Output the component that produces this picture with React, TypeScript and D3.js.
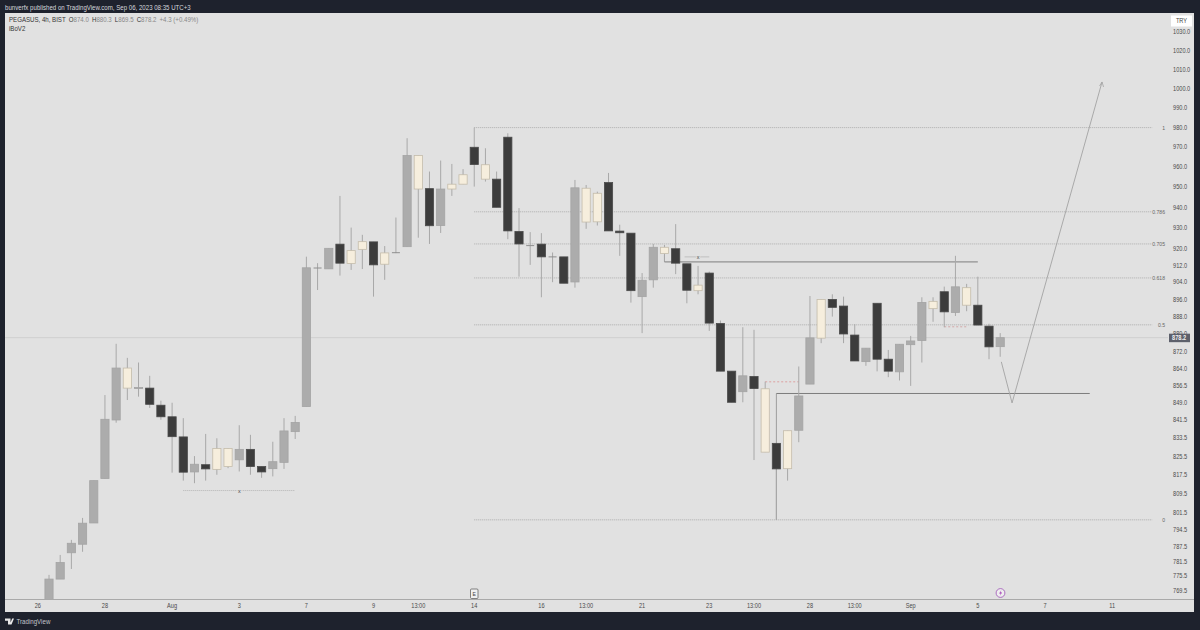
import React from "react";
import * as d3 from "d3";

const kinds = ("gggggggcgd"+"dddgdccgdd"+"ggggggdccd"+"cggcdgccdc"+"dddgdgdgcc"+"dddggcddcd"+"ddgdcdcggc"+"dddgddgggc"+"dgcddg").split("");
const opens = [765.9,774.3,785.0,788.5,797.3,816,841.3,855.4,855.2,855.4,847.8,842.7,833.9,818.8,821.9,819.9,821.1,824,828.5,821.1,820.2,822.9,836.2,847.2,910.7,910.3,922.1,912.8,919.6,923.2,912.5,918,920.9,949,949.2,931.1,949,951.4,969.9,953.9,953.9,975,928.2,921.4,922.1,916,916,904.1,932.8,932.9,952.2,928.4,927.4,897.2,905.1,917.6,919.9,912.7,900,908.3,884.7,863,853.8,860.6,827.3,831.1,820.2,836.8,857.2,878,895.9,892.8,879.4,867.3,894.1,868.4,862.7,875,876.9,891.6,899.5,889.8,893.2,893.2,883.5,874.1];
const closes = [774.3,781.0,788.9,797.2,815.1,841.6,864.4,864.4,855.7,848.2,842.7,834,818.7,822.1,820.1,828.9,828.9,828.5,821.1,818.8,823.2,836.5,840.2,910.8,910.5,920.1,913,919,923.3,912.2,917.9,917.8,965.7,965.7,931,949,951.4,956.1,961.2,961.1,940,928.5,922.2,921.2,916,915.8,903.5,949.6,949.4,946.9,928.5,927.6,900,904.9,920.6,920.6,913,900.2,902.6,884.9,863,849.1,860.9,855.2,855.1,820.1,836.6,851.9,878.1,895.9,892.2,879.9,867.6,873.4,868.4,863,875.2,876.7,894.5,895,890.1,901.8,901.4,884,874,878.2];
const highs = [776,784.1,790.3,799.4,815.1,852.3,875.4,869,866.9,860.9,849.8,848.9,842.1,825.6,835.2,833.3,828.9,839,834.8,821.1,831.8,842.1,843.1,916.1,913,920.1,945.6,930.1,926.6,923.2,921.2,935,974.5,965.7,957.7,963.2,961.5,958.9,969.9,969.4,957.7,977,939.6,927.9,927.4,918.1,916,953.5,951,947.7,957,931.5,927.4,908.3,922.2,921.7,931.8,912.7,911.7,909,886.1,863,883,881.8,858.3,831.1,836.6,865.1,897.5,895.9,898.3,897.2,884.4,873.4,894.1,872.6,875.2,879,896.9,896.9,901.9,916.5,903.2,906.6,884.6,880.3];
const lows = [764,774.3,778.4,785.4,797.3,816,840.1,850.1,851.6,846.6,841.4,818.5,815.1,814,815.1,817.6,820.4,819,817.6,816.3,816.9,820.1,833,847.2,900.3,910.3,907.1,909.8,910.2,897.2,905.1,917.8,920.9,925.2,922.2,927.5,945.6,951.4,950.2,952.7,940,924.5,906.6,912.2,896.9,904,903.5,901.4,929.5,931.1,928.5,916.5,894.4,880.3,901.4,913.8,907.8,894.1,898.3,881.3,863,849.1,849.1,823.9,827.3,798.6,815.1,831.6,857.2,875.7,887.9,875.7,867.6,865.4,862.9,860.3,858.8,856.4,866.9,885.5,883,888.2,890.4,884,868.4,869.5];

const priceTicks = [1030,1020,1010,1000,990,980,970,960,950,940,930,920,912,904,896,888,880,872,864,856.5,849,841.5,833.5,825.5,817.5,809.5,801.5,794.5,787.5,781.5,775.5,769.5];
const timeTickSlots = [-1,5,11,17,23,29,33,38,44,48,53,59,63,68,72,77,83,89,95];
const timeTickLabels = ["26","28","Aug","3","7","9","13:00","14","16","13:00","21","23","13:00","28","13:00","Sep","5","7","11"];
const fibRatios = ["1","0.786","0.705","0.618","0.5","0"];
const fibPrices = [979.9,937.8,922.2,906,884.1,798.6];
const pathSlots = [85.1,86.06,94.1];
const pathPrices = [867.2,848.8,1003.5];
const lastPrice = 878.2;

const FONT = "'Liberation Sans',Arial,sans-serif";
const bg = "#e1e1e1", frame = "#1e222d";
const styles: Record<string,{fill:string,stroke:string}> = {
  g:{fill:"#acacac",stroke:"#a4a4a4"},
  c:{fill:"#f6eedd",stroke:"#c4bcab"},
  d:{fill:"#3c3c3c",stroke:"#4a4a4a"},
};

function T({x,y,size,sx=0.88,anchor,fill,weight,halo,children}:any){
  return <text transform={`translate(${x},${y}) scale(${sx},1)`} fontSize={size} textAnchor={anchor} fill={fill} fontWeight={weight}
    stroke={halo} strokeWidth={halo?2:undefined} paintOrder={halo?"stroke":undefined}>{children}</text>;
}

export default function App(){
  const x = d3.scaleLinear().domain([0,85]).range([49,1000.2]);
  const y = d3.scaleLog().domain([769.5,1030]).range([591,32]);
  const pathLine = d3.line<number>().x(d=>x(pathSlots[d])).y(d=>y(pathPrices[d]));
  const tip = [x(pathSlots[2]),y(pathPrices[2])];
  const hline = (p:number,a:number,b:number,color:string,w:number,dash?:string)=>
    <line x1={x(a)} x2={x(b)} y1={y(p)} y2={y(p)} stroke={color} strokeWidth={w} strokeDasharray={dash}/>;
  return (
    <svg width={1200} height={630} style={{position:"absolute",left:0,top:0,display:"block"}} fontFamily={FONT}>
      <rect width={1200} height={630} fill={frame}/>
      <rect x={5} y={13} width={1189} height={599} fill={bg}/>
      <T x={5} y={10} size={6.8} sx={0.9} fill="#d6d8dd">bunverfx published on TradingView.com, Sep 06, 2023 08:35 UTC+3</T>
      <defs><clipPath id="plot"><rect x={5} y={13} width={1189} height={586.5}/></clipPath></defs>
      <line x1={5} x2={1168} y1={y(lastPrice)} y2={y(lastPrice)} stroke="#cfcfcf" strokeWidth={1}/>
      {fibPrices.map((p,i)=>(
        <g key={i}>
          {hline(p,38,98.6,"#adadad",1,"1 1")}
          <T x={1165} y={y(p)+2} size={5.8} anchor="end" fill="#666">{fibRatios[i]}</T>
        </g>
      ))}
      <line x1={x(38)} x2={x(38)} y1={y(fibPrices[0])} y2={y(970)} stroke="#aaa"/>
      <line x1={x(65)} x2={x(65)} y1={y(853)} y2={y(fibPrices[5])} stroke="#9d9d9d"/>
      {hline(853,65,93,"#7d7d7d",1)}
      <line x1={x(55)} x2={x(55)} y1={y(917)} y2={y(913.6)} stroke="#999"/>
      {hline(913.6,55,83,"#7d7d7d",1)}
      {hline(916,56.8,59,"#b5b5b5",0.8)}
      <T x={x(58)} y={y(916)+2} size={6.2} anchor="middle" fill="#444" halo={bg}>x</T>
      {hline(810.9,12,22,"#aaa",0.8,"1 1")}
      <T x={x(17)} y={y(810.9)+2} size={6.2} anchor="middle" fill="#444" halo={bg}>x</T>
      {hline(858.2,64,67,"#dda0a0",1,"2 2")}
      {hline(883.2,80,82,"#d2a8a8",1,"2 2")}
      <g clipPath="url(#plot)">
        {kinds.map((k,i)=>{
          const cx = x(i), top = y(Math.max(opens[i],closes[i])), bot = y(Math.min(opens[i],closes[i]));
          const thin = bot-top < 0.9 && k==="g";
          return (
            <g key={i}>
              <line x1={cx} x2={cx} y1={y(highs[i])} y2={y(lows[i])} stroke="#a8a8a8" strokeWidth={1}/>
              {thin
                ? <line x1={cx-4} x2={cx+4} y1={top} y2={top} stroke="#8e8e8e" strokeWidth={1}/>
                : <rect x={cx-4.1} y={top} width={8.2} height={Math.max(bot-top,1)} fill={styles[k].fill} stroke={styles[k].stroke} strokeWidth={0.8}/>}
            </g>
          );
        })}
      </g>
      <path d={pathLine([0,1,2]) as string} fill="none" stroke="#a3a3a3" strokeWidth={0.9}/>
      <path d={`M${tip[0]-2.5},${tip[1]+4}L${tip[0]},${tip[1]}L${tip[0]+1.5},${tip[1]+5}`} fill="none" stroke="#a3a3a3" strokeWidth={0.8}/>
      <T x={9} y={22} size={6.8} sx={0.9} fill="#333">PEGASUS, 4h, BIST<tspan dx={3.5}>O</tspan><tspan fill="#888">874.0</tspan><tspan dx={3.5}>H</tspan><tspan fill="#888">880.3</tspan><tspan dx={3.5}>L</tspan><tspan fill="#888">869.5</tspan><tspan dx={3.5}>C</tspan><tspan fill="#888">878.2</tspan><tspan dx={3.5} fill="#888">+4.3 (+0.49%)</tspan></T>
      <T x={9} y={31} size={6.8} sx={0.9} fill="#333">iBoV2</T>
      <rect x={1171} y={15.5} width={21} height={11} fill="#fff"/>
      <T x={1181.5} y={23} size={6.4} anchor="middle" fill="#444">TRY</T>
      {priceTicks.map(t=>(
        <T key={t} x={1173} y={y(t)+2.3} size={6.4} fill="#4a4a4a">{t.toFixed(1)}</T>
      ))}
      <rect x={1169} y={y(lastPrice)-4} width={21} height={8.5} fill="#5d606b"/>
      <T x={1172} y={y(lastPrice)+2.3} size={6.4} weight={600} fill="#f2f2f2">{lastPrice.toFixed(1)}</T>
      <line x1={5} x2={1194} y1={599.5} y2={599.5} stroke="#a9a9a9" strokeWidth={1}/>
      {timeTickSlots.map((s,i)=>(
        <T key={i} x={x(s)} y={608} size={6.4} anchor="middle" fill="#4a4a4a">{timeTickLabels[i]}</T>
      ))}
      <rect x={470.5} y={589} width={7.5} height={9.5} rx={1} fill="#f0f0f0" stroke="#555" strokeWidth={0.7}/>
      <T x={474.2} y={596} size={5.8} anchor="middle" fill="#444">E</T>
      <circle cx={1000.5} cy={593} r={4.4} fill="#eee" stroke="#9c4fb5" strokeWidth={0.8}/>
      <path d="M1001.3,590L999.2,593.4H1000.8L999.8,596L1002,592.6H1000.4Z" fill="#9c27b0"/>
      <path d="M5,618.5H10.5V624.5H8V620.7H5ZM14,618.5L11.5,624.5H9.7L12.2,618.5Z" fill="#e8e8e8"/>
      <circle cx={12} cy={619.6} r={0} fill="#e8e8e8"/>
      <T x={16.5} y={624} size={7} sx={0.88} fill="#c4c6cc">TradingView</T>
    </svg>
  );
}
